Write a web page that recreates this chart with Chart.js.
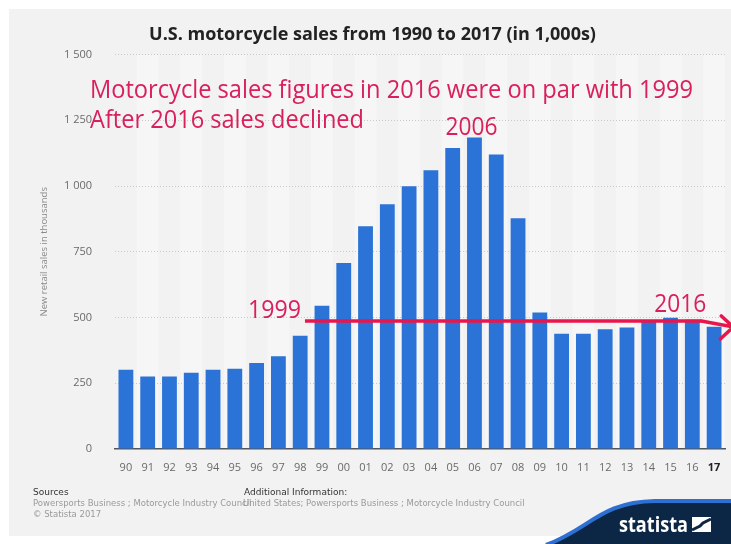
<!DOCTYPE html>
<html>
<head>
<meta charset="utf-8">
<style>
  html, body { margin: 0; padding: 0; background: #ffffff; }
  #wrap { width: 731px; height: 544px; position: relative; }
  canvas { display: block; }
</style>
<script src="https://cdn.jsdelivr.net/npm/chart.js@4/dist/chart.umd.min.js"></script>
</head>
<body>
<div id="wrap"><canvas id="c" width="731" height="544"></canvas></div>
<script>
// ---- Data ----
const years = ['90','91','92','93','94','95','96','97','98','99','00','01','02','03','04','05','06','07','08','09','10','11','12','13','14','15','16','17'];
const sales = [301, 276, 276, 290, 301, 305, 327, 353, 431, 545, 707, 847, 931, 999, 1060, 1145, 1185, 1120, 878, 519, 438, 438, 455, 462, 484, 499, 492, 465];
const yTicks = [0, 250, 500, 750, 1000, 1250, 1500];
const chartTitle = 'U.S. motorcycle sales from 1990 to 2017 (in 1,000s)';
const yAxisTitle = 'New retail sales in thousands';
const noteLines = ['Motorcycle sales figures in 2016 were on par with 1999', 'After 2016 sales declined'];
const peakLabel = '2006';
const startLabel = '1999';
const endLabel = '2016';
const parLevel = 487;
const sourceLines = ['Sources', 'Powersports Business ; Motorcycle Industry Council', '\u00A9 Statista 2017'];
const infoLines = ['Additional Information:', 'United States; Powersports Business ; Motorcycle Industry Council'];
const brand = 'statista';

const ANN = '#d9205a';
const LINE_RED = '#e8164c';

function fmt(v) {
  return String(v).replace(/\B(?=(\d{3})+(?!\d))/g, ' ');
}

const decorPlugin = {
  id: 'decor',
  beforeDraw(chart) {
    const ctx = chart.ctx;
    const ca = chart.chartArea;
    const xs = chart.scales.x;
    ctx.save();
    ctx.fillStyle = '#ffffff';
    ctx.fillRect(0, 0, chart.width, chart.height);
    ctx.fillStyle = '#f2f2f2';
    ctx.fillRect(9, 9, chart.width - 9, 527);
    // alternating stripes
    const w = xs.width / years.length;
    ctx.fillStyle = '#f6f6f6';
    for (let i = 1; i < years.length; i += 2) {
      const cx = xs.getPixelForValue(i);
      ctx.fillRect(cx - w / 2, ca.top, w, ca.bottom - ca.top);
    }
    ctx.restore();
  },
  afterDraw(chart) {
    const ctx = chart.ctx;
    const xs = chart.scales.x;
    const ys = chart.scales.y;
    ctx.save();
    // Annotation text
    ctx.fillStyle = ANN;
    ctx.textBaseline = 'alphabetic';
    ctx.font = '25px "Open Sans"';
    ctx.textAlign = 'left';
    ctx.fillText(noteLines[0], 90, 97.5, 603);
    ctx.fillText(noteLines[1], 90, 127.5, 274);

    const i06 = years.indexOf('06');
    const i99 = years.indexOf('99');
    const i16 = years.indexOf('16');
    ctx.textAlign = 'center';
    ctx.fillText(peakLabel, xs.getPixelForValue(i06) - 3, ys.getPixelForValue(sales[i06]) - 2, 52);

    const lineY = ys.getPixelForValue(parLevel);
    const x0 = xs.getPixelForValue(i99) - 17;
    const x1 = xs.getPixelForValue(i16) + 9;
    ctx.textAlign = 'right';
    ctx.fillText(startLabel, xs.getPixelForValue(i99) - 21, lineY - 3, 53);
    ctx.textAlign = 'center';
    ctx.fillText(endLabel, xs.getPixelForValue(i16) - 12, lineY - 9, 52);

    // red line + arrow
    ctx.strokeStyle = LINE_RED;
    ctx.lineWidth = 3.5;
    ctx.lineCap = 'butt';
    ctx.beginPath();
    ctx.moveTo(x0, lineY);
    ctx.lineTo(x1, lineY);
    ctx.stroke();
    ctx.lineCap = 'round';
    const tipX = x1 + 32, tipY = lineY + 6;
    ctx.beginPath();
    ctx.moveTo(x1, lineY);
    ctx.lineTo(tipX, tipY);
    ctx.moveTo(tipX - 12, tipY - 11);
    ctx.lineTo(tipX, tipY);
    ctx.lineTo(tipX - 13, tipY + 12);
    ctx.stroke();

    // footer
    ctx.textAlign = 'left';
    ctx.textBaseline = 'middle';
    ctx.font = '9px "DejaVu Sans"';
    ctx.fillStyle = '#333333';
    ctx.fillText(sourceLines[0], 33, 493);
    ctx.fillText(infoLines[0], 244, 493);
    ctx.font = '8.5px "DejaVu Sans"';
    ctx.fillStyle = '#9a9a9a';
    ctx.fillText(sourceLines[1], 33, 504);
    ctx.fillText(sourceLines[2], 33, 515);
    ctx.fillText(infoLines[1], 243, 504);

    // statista swoosh
    ctx.fillStyle = '#0c2646';
    ctx.beginPath();
    ctx.moveTo(546, 544);
    ctx.bezierCurveTo(590, 528, 600, 501, 655, 500);
    ctx.lineTo(chart.width, 500);
    ctx.lineTo(chart.width, 544);
    ctx.closePath();
    ctx.fill();
    ctx.strokeStyle = '#2e6fd4';
    ctx.lineWidth = 4;
    ctx.lineCap = 'butt';
    ctx.beginPath();
    ctx.moveTo(546, 545);
    ctx.bezierCurveTo(590, 529, 600, 502, 655, 501);
    ctx.lineTo(chart.width, 501);
    ctx.stroke();

    ctx.fillStyle = '#ffffff';
    ctx.font = 'bold 21px "Open Sans"';
    ctx.textBaseline = 'alphabetic';
    ctx.fillText(brand, 619, 532, 69);
    ctx.fillRect(692, 517, 19, 15);
    ctx.strokeStyle = '#0c2646';
    ctx.lineWidth = 3;
    ctx.beginPath();
    ctx.moveTo(692, 530);
    ctx.lineTo(700, 526);
    ctx.lineTo(703, 523);
    ctx.lineTo(711, 519);
    ctx.stroke();
    ctx.restore();
  }
};

new Chart(document.getElementById('c'), {
  type: 'bar',
  data: {
    labels: years,
    datasets: [{
      data: sales,
      backgroundColor: '#2b73d6',
      borderWidth: 0,
      barPercentage: 0.68,
      categoryPercentage: 1.0
    }]
  },
  options: {
    responsive: false,
    animation: false,
    events: [],
    layout: { padding: { top: 22, left: 20, right: 6, bottom: 70 } },
    plugins: {
      legend: { display: false },
      tooltip: { enabled: false },
      title: {
        display: true,
        text: chartTitle,
        color: '#222222',
        font: { family: 'Open Sans', weight: 'bold', size: 18 },
        padding: { top: 2, bottom: 9 }
      }
    },
    scales: {
      x: {
        grid: { display: false },
        border: { display: true, color: '#555555', width: 1.5 },
        ticks: {
          autoSkip: false,
          maxRotation: 0,
          padding: 4,
          color: (c) => c.index === years.length - 1 ? '#222222' : '#6a6a6a',
          font: (c) => ({ family: 'Open Sans', size: 11, weight: c.index === years.length - 1 ? 'bold' : 'normal' })
        },
        afterFit(scale) { scale.height = 25; }
      },
      y: {
        min: yTicks[0],
        max: yTicks[yTicks.length - 1],
        afterBuildTicks(scale) { scale.ticks = yTicks.map(v => ({ value: v })); },
        grid: { color: (c) => c.tick && c.tick.value === 0 ? 'rgba(0,0,0,0)' : '#c9c9c9', drawTicks: false, lineWidth: 1 },
        border: { display: false, dash: [1, 2] },
        ticks: {
          padding: 23,
          color: '#6a6a6a',
          font: { family: 'Open Sans', size: 11 },
          callback: (v) => fmt(v)
        },
        title: {
          display: true,
          text: yAxisTitle,
          color: '#8a8a8a',
          font: { family: 'Open Sans', size: 9.5 },
          padding: { top: 19, bottom: 0 }
        },
        afterFit(scale) { scale.width = 95; }
      }
    }
  },
  plugins: [decorPlugin]
});
</script>
</body>
</html>
